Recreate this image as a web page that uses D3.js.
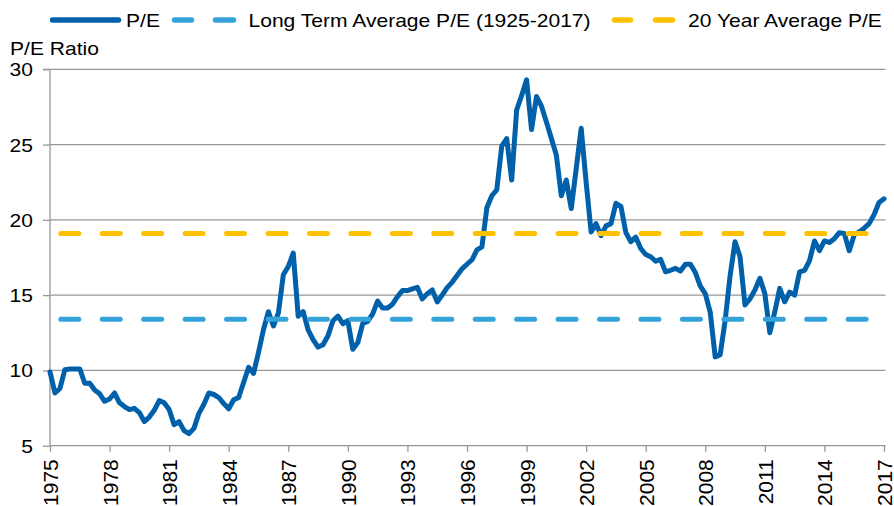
<!DOCTYPE html>
<html>
<head>
<meta charset="utf-8">
<script src="https://cdn.jsdelivr.net/npm/d3@7"></script>
<style>
  html, body { margin: 0; padding: 0; background: #fff; }
  svg { display: block; font-family: "Liberation Sans", Arial, sans-serif; }
</style>
</head>
<body>
<svg id="chart" width="894" height="506"></svg>
<script>
// ---------------- data ----------------
const startYear = 1975;           // first quarter of the series
const periodsPerYear = 4;         // quarterly observations
const peValues = [
  9.9, 8.5, 8.8, 10.05, 10.1, 10.1, 10.1, 9.15, 9.15, 8.7,
  8.45, 7.95, 8.1, 8.5, 7.85, 7.6, 7.4, 7.48, 7.2, 6.6,
  6.9, 7.35, 8.0, 7.85, 7.4, 6.4, 6.6, 6.0, 5.8, 6.15,
  7.15, 7.75, 8.5, 8.4, 8.2, 7.8, 7.45, 8.05, 8.2, 9.2,
  10.2, 9.8, 11.2, 12.7, 13.9, 12.95, 13.8, 16.35, 16.9, 17.8,
  13.6, 13.9, 12.7, 12.05, 11.55, 11.7, 12.3, 13.3, 13.6, 13.1,
  13.3, 11.4, 11.85, 13.13, 13.25, 13.75, 14.6, 14.15, 14.15, 14.4,
  14.9, 15.3, 15.3, 15.42, 15.52, 14.75, 15.1, 15.35, 14.55, 15.0,
  15.5, 15.85, 16.3, 16.75, 17.05, 17.35, 18.0, 18.2, 20.8, 21.6,
  22.0, 24.9, 25.4, 22.65, 27.3, 28.25, 29.3, 26.0, 28.2, 27.55,
  26.5, 25.4, 24.3, 21.6, 22.65, 20.75, 23.4, 26.08, 22.5, 19.2,
  19.75, 18.95, 19.6, 19.75, 21.1, 20.9, 19.15, 18.55, 18.85, 18.1,
  17.7, 17.55, 17.25, 17.38, 16.55, 16.65, 16.78, 16.6, 17.05, 17.05,
  16.5, 15.6, 15.1, 13.85, 10.9, 11.05, 13.3, 16.3, 18.55, 17.55,
  14.35, 14.75, 15.34, 16.12, 15.1, 12.5, 13.9, 15.45, 14.56, 15.2,
  15.0, 16.55, 16.65, 17.3, 18.6, 17.95, 18.6, 18.5, 18.75, 19.15,
  19.1, 17.95, 19.0, 19.2, 19.45, 19.75, 20.35, 21.15, 21.4
];
const longTermAvg = 13.4;        // Long Term Average P/E (1925-2017)
const twentyYearAvg = 19.1;      // 20 Year Average P/E
const xTickYears = [1975, 1978, 1981, 1984, 1987, 1990, 1993, 1996, 1999, 2002, 2005, 2008, 2011, 2014, 2017];
const yTickValues = [5, 10, 15, 20, 25, 30];
const seriesNames = ["P/E", "Long Term Average P/E (1925-2017)", "20 Year Average P/E"];
const yAxisTitle = "P/E Ratio";

// ---------------- styles ----------------
const C_PE = "#0060A9";
const C_LT = "#35A2DA";
const C_20 = "#FFC000";
const C_GRID = "#979797";
const FONT = 18;
const STRETCH = 1.17;

const svg = d3.select("#chart");
const x = d3.scaleLinear().domain([1975, 2017]).range([50, 884]);
const y = d3.scaleLinear().domain([5, 30]).range([445.7, 69.3]);

const peData = peValues.map((v, i) => ({ t: startYear + i / periodsPerYear, v }));

// gridlines
svg.append("g").selectAll("line")
  .data(yTickValues.filter(v => v > 5))
  .join("line")
  .attr("x1", x(1975)).attr("x2", 885.5)
  .attr("y1", d => y(d)).attr("y2", d => y(d))
  .attr("stroke", C_GRID).attr("stroke-width", 1.3);

// y axis
const yAxis = svg.append("g")
  .attr("transform", `translate(${x(1975)},0)`)
  .call(d3.axisLeft(y).tickValues(yTickValues).tickSize(7).tickPadding(10).tickFormat(d3.format("d")));
yAxis.select(".domain").attr("stroke", C_GRID).attr("stroke-width", 1.3).attr("d", `M-7,${y(30)}H0V${y(5)}`);
yAxis.selectAll(".tick line").attr("stroke", C_GRID).attr("stroke-width", 1.3);
yAxis.selectAll(".tick text")
  .attr("x", null).attr("dy", "0.36em")
  .attr("transform", `translate(-17,0) scale(${STRETCH},1)`)
  .attr("font-size", FONT).attr("font-family", "Liberation Sans, Arial, sans-serif").attr("fill", "#000");

// x axis
const xAxis = svg.append("g")
  .attr("transform", `translate(0,${y(5)})`)
  .call(d3.axisBottom(x).tickValues(xTickYears).tickSize(6).tickFormat(d3.format("d")));
xAxis.select(".domain").attr("stroke", C_GRID).attr("stroke-width", 1.3).attr("d", `M${x(1975)},0H885.5`);
xAxis.selectAll(".tick line").attr("stroke", C_GRID).attr("stroke-width", 1.3);
xAxis.selectAll(".tick text")
  .attr("y", null).attr("dy", "0.36em")
  .attr("text-anchor", "end")
  .attr("transform", `translate(0,13.5) rotate(-90)`)
  .attr("font-size", 21).attr("font-family", "Liberation Sans, Arial, sans-serif").attr("fill", "#000");

// P/E line
const line = d3.line().x(d => x(d.t)).y(d => y(d.v)).curve(d3.curveLinear);
svg.append("path")
  .datum(peData)
  .attr("d", line)
  .attr("fill", "none")
  .attr("stroke", C_PE)
  .attr("stroke-width", 5)
  .attr("stroke-linejoin", "round")
  .attr("stroke-linecap", "round");

// average lines
const avgs = [
  { v: longTermAvg, c: C_LT },
  { v: twentyYearAvg, c: C_20 }
];
svg.append("g").selectAll("line")
  .data(avgs)
  .join("line")
  .attr("x1", x(1975)).attr("x2", x(2017))
  .attr("y1", d => y(d.v)).attr("y2", d => y(d.v))
  .attr("stroke", d => d.c)
  .attr("stroke-width", 5)
  .attr("stroke-linecap", "round")
  .attr("stroke-dasharray", "18,23.44")
  .attr("stroke-dashoffset", 30.64);

// axis title
svg.append("text")
  .attr("transform", `translate(10,55) scale(${STRETCH},1)`)
  .attr("font-size", FONT).attr("fill", "#000")
  .text(yAxisTitle);

// legend
const lg = svg.append("g");
const LY = 20;
lg.append("line").attr("x1", 52.5).attr("x2", 118.5).attr("y1", LY).attr("y2", LY)
  .attr("stroke", C_PE).attr("stroke-width", 5.5).attr("stroke-linecap", "round");
[[174.5, 191.5], [215.5, 233.5]].forEach(([a, b]) =>
  lg.append("line").attr("x1", a).attr("x2", b).attr("y1", LY).attr("y2", LY)
    .attr("stroke", C_LT).attr("stroke-width", 5.5).attr("stroke-linecap", "round"));
[[614.5, 630.5], [655.5, 672.5]].forEach(([a, b]) =>
  lg.append("line").attr("x1", a).attr("x2", b).attr("y1", LY).attr("y2", LY)
    .attr("stroke", C_20).attr("stroke-width", 5.5).attr("stroke-linecap", "round"));
const legendTextX = [126, 248.5, 688];
seriesNames.forEach((name, i) => {
  lg.append("text")
    .attr("transform", `translate(${legendTextX[i]},26.7) scale(${STRETCH},1)`)
    .attr("font-size", FONT).attr("fill", "#000")
    .text(name);
});
</script>
</body>
</html>
